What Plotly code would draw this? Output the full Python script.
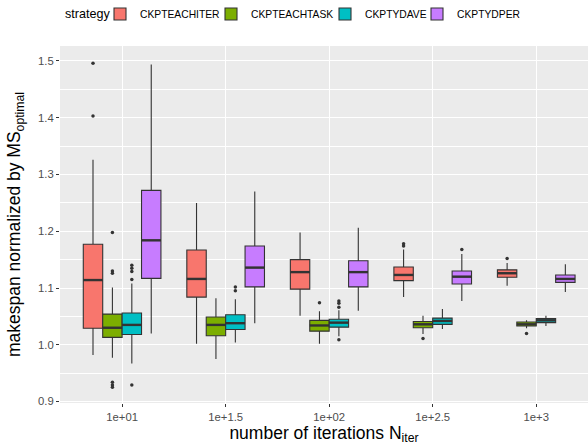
import plotly.graph_objects as go

# ---- data ----
iter_labels = ["1e+01", "1e+1.5", "1e+02", "1e+2.5", "1e+3"]
strategies = ["CKPTEACHITER", "CKPTEACHTASK", "CKPTYDAVE", "CKPTYDPER"]
colors = ["#F8766D", "#7CAE00", "#00BFC4", "#C77CFF"]

# per strategy: values for each iteration group
lowerfence = {
    "CKPTEACHITER": [0.982, 1.002, 1.051, 1.084, 1.104],
    "CKPTEACHTASK": [0.977, 0.975, 1.002, 1.019, 1.029],
    "CKPTYDAVE":    [0.967, 1.004, 1.015, 1.028, 1.033],
    "CKPTYDPER":    [1.020, 1.038, 1.060, 1.077, 1.093],
}
q1 = {
    "CKPTEACHITER": [1.029, 1.084, 1.098, 1.113, 1.119],
    "CKPTEACHTASK": [1.013, 1.016, 1.024, 1.030, 1.033],
    "CKPTYDAVE":    [1.018, 1.027, 1.031, 1.036, 1.039],
    "CKPTYDPER":    [1.117, 1.102, 1.102, 1.107, 1.110],
}
median = {
    "CKPTEACHITER": [1.114, 1.116, 1.128, 1.123, 1.126],
    "CKPTEACHTASK": [1.030, 1.035, 1.034, 1.036, 1.036],
    "CKPTYDAVE":    [1.035, 1.038, 1.039, 1.042, 1.043],
    "CKPTYDPER":    [1.184, 1.136, 1.128, 1.120, 1.116],
}
q3 = {
    "CKPTEACHITER": [1.177, 1.167, 1.150, 1.137, 1.132],
    "CKPTEACHTASK": [1.054, 1.049, 1.043, 1.041, 1.040],
    "CKPTYDAVE":    [1.056, 1.053, 1.045, 1.047, 1.046],
    "CKPTYDPER":    [1.272, 1.174, 1.148, 1.130, 1.123],
}
upperfence = {
    "CKPTEACHITER": [1.326, 1.250, 1.198, 1.168, 1.144],
    "CKPTEACHTASK": [1.101, 1.082, 1.059, 1.051, 1.043],
    "CKPTYDAVE":    [1.108, 1.080, 1.061, 1.063, 1.051],
    "CKPTYDPER":    [1.494, 1.270, 1.206, 1.160, 1.142],
}
# outliers: list per group
outliers = {
    "CKPTEACHITER": [[1.496, 1.403], [], [], [1.178, 1.174], [1.152]],
    "CKPTEACHTASK": [[1.198, 1.130, 1.126, 0.934, 0.929, 0.925], [], [1.074], [1.011], [1.020]],
    "CKPTYDAVE":    [[1.140, 1.135, 1.129, 1.115, 0.929], [1.102, 1.095], [1.077, 1.073, 1.066, 1.009], [], []],
    "CKPTYDPER":    [[], [], [], [1.168], []],
}
legend_title = "strategy"

# ---- layout parameters ----
dodge_total = 0.75
n_s = len(strategies)
bw = dodge_total / n_s
font_family = "Liberation Sans, Arial, sans-serif"
line_col = "#333333"
W, H = 588, 446
legend_names = ["legend", "legend2", "legend3", "legend4"]
legend_px = [100, 211, 325, 417]  # left edge of each legend block (px)

fig = go.Figure()
for k, s in enumerate(strategies):
    off = -dodge_total / 2 + bw * (k + 0.5)
    xs = [i + 1 + off for i in range(len(iter_labels))]
    fig.add_trace(go.Box(
        x=xs, q1=q1[s], median=median[s], q3=q3[s],
        lowerfence=lowerfence[s], upperfence=upperfence[s],
        width=bw, fillcolor=colors[k],
        line=dict(color=line_col, width=1.1),
        whiskerwidth=0, boxpoints=False, name=s, showlegend=True,
        legend=legend_names[k], hoverinfo="skip",
    ))
    # thick median lines
    mx, my = [], []
    for i, x in enumerate(xs):
        mx += [x - bw / 2, x + bw / 2, None]
        my += [median[s][i], median[s][i], None]
    fig.add_trace(go.Scatter(x=mx, y=my, mode="lines",
                             line=dict(color=line_col, width=2.4),
                             showlegend=False, hoverinfo="skip"))
    # outliers
    ox, oy = [], []
    for i, x in enumerate(xs):
        for v in outliers[s][i]:
            ox.append(x)
            oy.append(v)
    fig.add_trace(go.Scatter(x=ox, y=oy, mode="markers",
                             marker=dict(color=line_col, size=3.5),
                             showlegend=False, hoverinfo="skip"))

legend_common = dict(
    orientation="h", xref="container", yref="container", xanchor="left",
    y=1 - 14 / H, yanchor="middle",
    font=dict(size=10.3, color="black"), bgcolor="rgba(0,0,0,0)",
)
layout_legends = {ln: dict(legend_common, x=legend_px[j] / W)
                  for j, ln in enumerate(legend_names)}

fig.add_annotation(
    text=legend_title, xref="paper", yref="paper",
    x=(63 - 60) / (W - 60), xanchor="left",
    y=1 + (46 - 14) / (H - 46 - 43), yanchor="middle",
    showarrow=False, font=dict(size=12.6, color="black"),
)

fig.update_layout(
    width=W, height=H,
    margin=dict(l=60, r=0, t=46, b=43, autoexpand=False),
    plot_bgcolor="#EBEBEB", paper_bgcolor="white",
    font=dict(family=font_family, color="black"),
    showlegend=True,
    xaxis=dict(
        range=[0.4, 5.5], tickmode="array",
        tickvals=list(range(1, len(iter_labels) + 1)), ticktext=iter_labels,
        showgrid=True, gridcolor="white", gridwidth=1.1,
        zeroline=False, ticks="outside", ticklen=3, tickcolor=line_col,
        tickfont=dict(size=11.3, color="#4D4D4D"), automargin=False,
        title=dict(text="number of iterations N<sub>iter</sub>",
                   font=dict(size=17.5, color="black"), standoff=2),
    ),
    yaxis=dict(
        range=[0.8974, 1.5264], tickmode="linear", tick0=0.9, dtick=0.1,
        tickformat=".1f",
        showgrid=True, gridcolor="white", gridwidth=1.1,
        minor=dict(dtick=0.05, tick0=0.95, showgrid=True, gridcolor="white", gridwidth=0.5),
        zeroline=False, ticks="outside", ticklen=3, tickcolor=line_col,
        tickfont=dict(size=11.3, color="#4D4D4D"), automargin=False,
        title=dict(text="makespan normalized by MS<sub>optimal</sub>",
                   font=dict(size=17.5, color="black"), standoff=12),
    ),
    **layout_legends,
)

fig.write_html(
    "out.html",
    config={"displayModeBar": False},
    post_script="document.body.style.margin='0';document.body.style.overflow='hidden';",
)
